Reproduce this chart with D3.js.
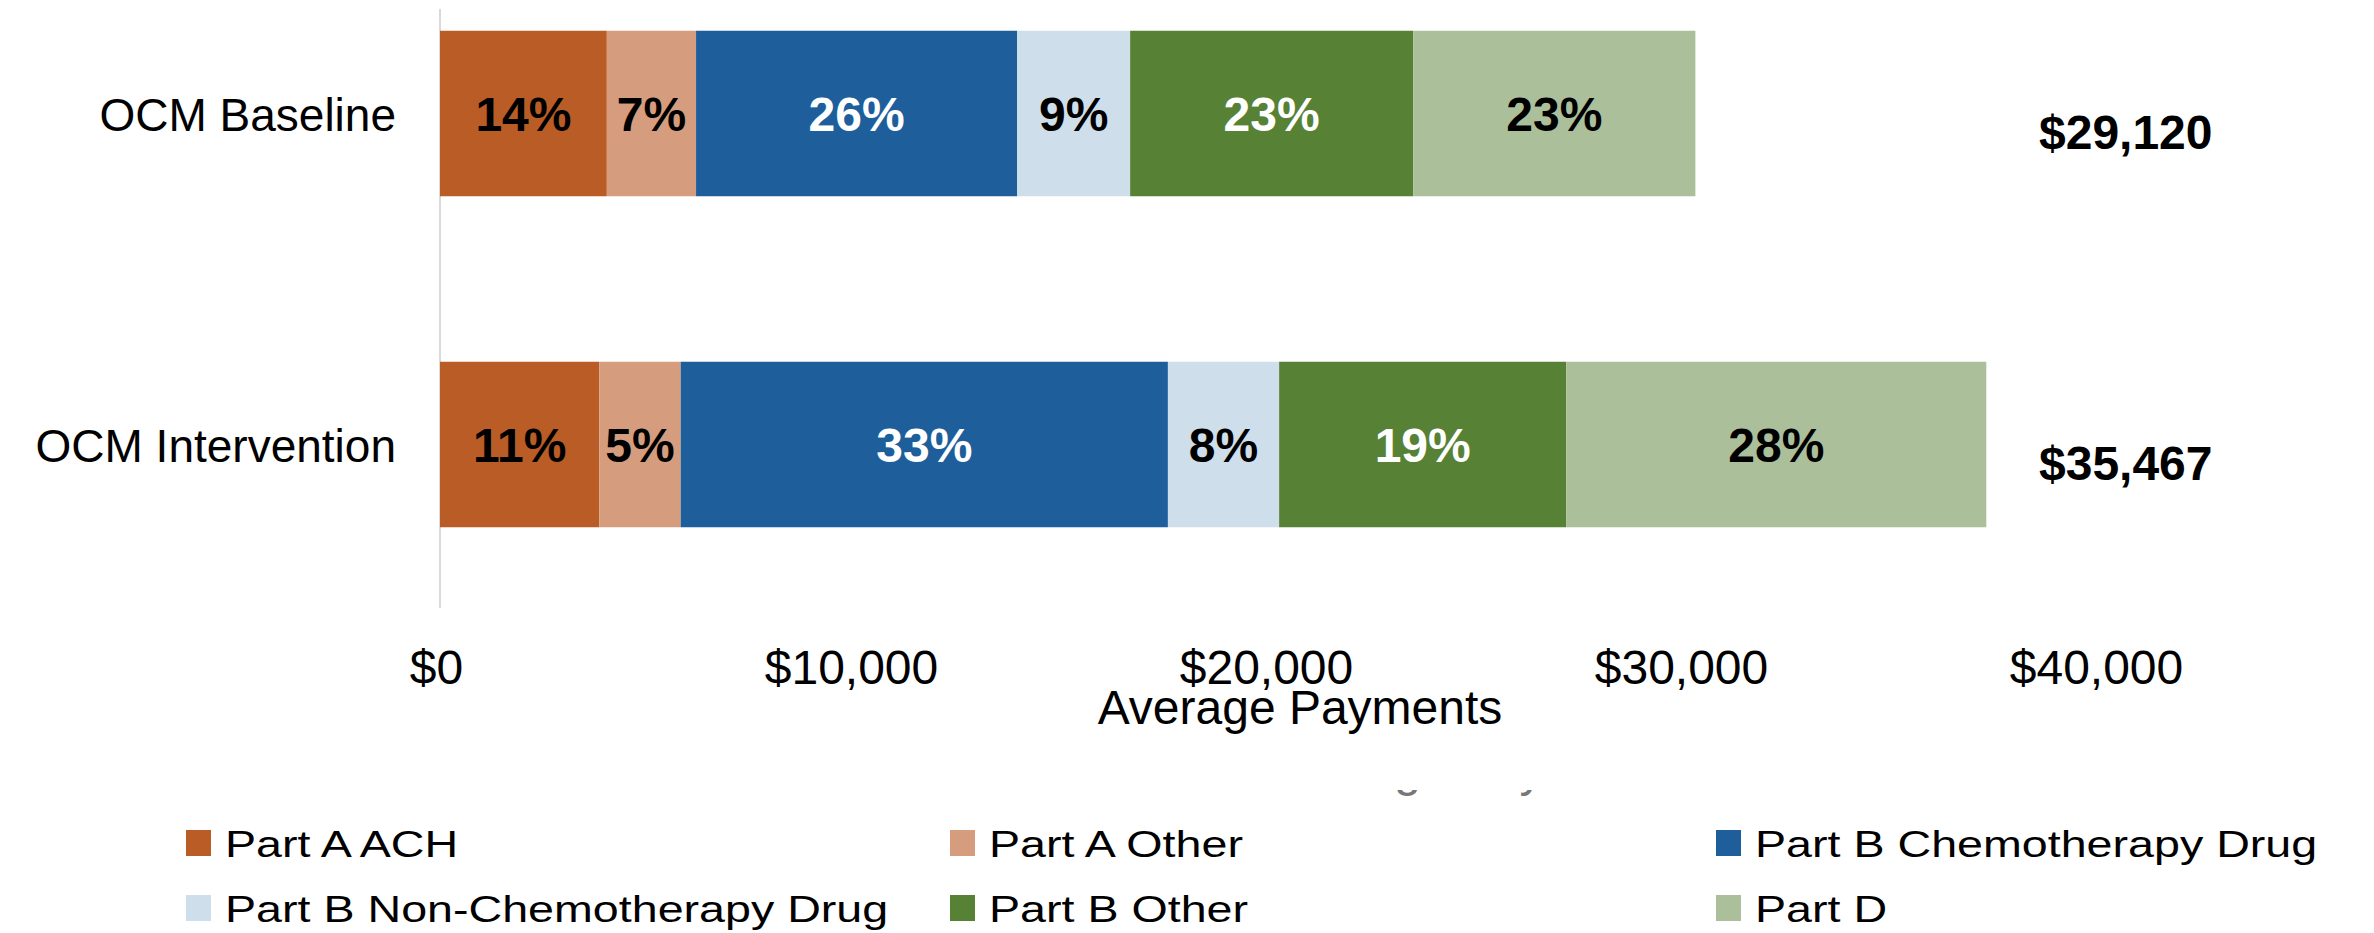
<!DOCTYPE html>
<html>
<head>
<meta charset="utf-8">
<script src="https://cdn.jsdelivr.net/npm/d3@7"></script>
<style>
  body { margin: 0; background: #fff; }
  text { font-family: "Liberation Sans", Arial, sans-serif; fill: #000; }
</style>
</head>
<body>
<svg id="svg"></svg>
<script>
// chart data
var categories = ["OCM Baseline", "OCM Intervention"];
var series = ["Part A ACH", "Part A Other", "Part B Chemotherapy Drug",
              "Part B Non-Chemotherapy Drug", "Part B Other", "Part D"];
var colors = ["#b95c26", "#d59d7d", "#1d5e9b", "#cfdeeb", "#578236", "#aabf9a"];
var labelColors = ["#000", "#000", "#fff", "#000", "#fff", "#000"];
// dollar amounts per segment (bar lengths)
var baselineValues = [4020, 2150, 7740, 2720, 6820, 6800];
var interventionValues = [3840, 1960, 11740, 2680, 6920, 10120];
// printed shares
var baselinePct = ["14%", "7%", "26%", "9%", "23%", "23%"];
var interventionPct = ["11%", "5%", "33%", "8%", "19%", "28%"];
var totals = ["$29,120", "$35,467"];
var xTicks = [0, 10000, 20000, 30000, 40000];

var W = 2374, H = 933;
svg = d3.select("#svg").attr("width", W).attr("height", H);

var x = d3.scaleLinear().domain([0, 40000]).range([440, 2100]);
var y = d3.scaleBand().domain(categories)
          .range([-52, 610]).paddingInner(0.5).paddingOuter(0.25);
var color = d3.scaleOrdinal().domain(series).range(colors);

var rows = [
  { cat: categories[0], vals: baselineValues, pct: baselinePct, total: totals[0] },
  { cat: categories[1], vals: interventionValues, pct: interventionPct, total: totals[1] }
];

// build stacked segments
var segs = [];
rows.forEach(function(r){
  var acc = 0;
  r.vals.forEach(function(v, i){
    segs.push({ cat: r.cat, key: series[i], x0: acc, x1: acc + v, pct: r.pct[i], lc: labelColors[i] });
    acc += v;
  });
});

// vertical axis line
svg.append("line")
   .attr("x1", x(0)).attr("x2", x(0))
   .attr("y1", 9).attr("y2", 608)
   .attr("stroke", "#d9d9d9").attr("stroke-width", 2);

svg.append("g").selectAll("rect")
   .data(segs).enter()
   .append("rect")
     .attr("x", d => x(d.x0))
     .attr("y", d => y(d.cat))
     .attr("width", d => x(d.x1) - x(d.x0))
     .attr("height", y.bandwidth())
     .attr("fill", d => color(d.key));

svg.append("g").selectAll("text")
   .data(segs).enter()
   .append("text")
     .attr("x", d => (x(d.x0) + x(d.x1)) / 2)
     .attr("y", d => y(d.cat) + y.bandwidth() / 2)
     .attr("dy", "0.36em")
     .attr("text-anchor", "middle")
     .style("font-size", "48px")
     .style("font-weight", "bold")
     .style("fill", d => d.lc)
     .text(d => d.pct);

// totals on the right
svg.append("g").selectAll("text")
   .data(rows).enter()
   .append("text")
     .attr("x", 2039)
     .attr("y", d => y(d.cat) + y.bandwidth() / 2 + 18)
     .attr("dy", "0.36em")
     .style("font-size", "48px")
     .style("font-weight", "bold")
     .text(d => d.total);

// category axis
var yAxis = svg.append("g")
   .attr("transform", "translate(" + x(0) + ",0)")
   .call(d3.axisLeft(y).tickSize(0).tickPadding(44));
yAxis.select(".domain").remove();
yAxis.selectAll("text")
     .attr("dy", "0.38em")
     .style("font-size", "46px")
     .style("font-family", "'Liberation Sans', Arial, sans-serif")
     .style("fill", "#000");

// value axis
var xAxis = svg.append("g")
   .attr("transform", "translate(0,640)")
   .call(d3.axisBottom(x).tickValues(xTicks).tickSize(0).tickPadding(10)
           .tickFormat(d => "$" + d3.format(",")(d)));
xAxis.select(".domain").remove();
xAxis.selectAll("text")
     .attr("dx", "-4")
     .style("font-size", "48px")
     .style("font-family", "'Liberation Sans', Arial, sans-serif")
     .style("fill", "#000");

svg.append("text")
   .attr("x", 1300).attr("y", 724)
   .attr("text-anchor", "middle")
   .style("font-size", "48px")
   .text("Average Payments");

// cut-off leftover of a second axis title above the legend (only descenders show)
svg.append("clipPath").attr("id", "ghostClip")
   .append("rect").attr("x", 1200).attr("y", 790).attr("width", 550).attr("height", 10);
svg.append("text")
   .attr("x", 1472).attr("y", 786)
   .attr("text-anchor", "middle")
   .attr("clip-path", "url(#ghostClip)")
   .style("font-size", "48px")
   .style("fill", "#777")
   .text("Average Payments");

// legend, 3 columns x 2 rows (text is a bit stretched horizontally)
var legCols = [186, 950, 1716];
var legRows = [857, 922];
var leg = svg.append("g").selectAll("g")
   .data(series).enter()
   .append("g")
     .attr("transform", (d, i) => "translate(" + legCols[i % 3] + "," + legRows[Math.floor(i / 3)] + ")");

leg.append("rect")
   .attr("x", 0).attr("y", -27)
   .attr("width", 25).attr("height", 26)
   .attr("fill", d => color(d));

leg.append("text")
   .attr("transform", "translate(39,0) scale(1.26,1)")
   .style("font-size", "37px")
   .text(d => d);
</script>
</body>
</html>
